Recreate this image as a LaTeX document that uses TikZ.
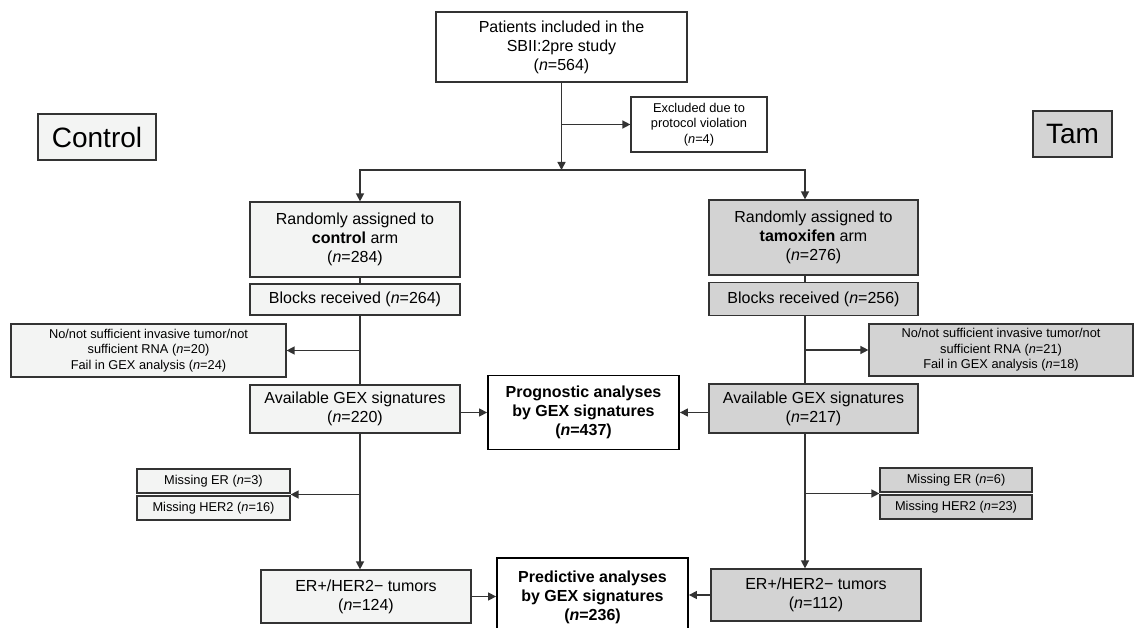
\documentclass[tikz,border=0pt]{standalone}
\usepackage{fontspec}
\setmainfont{Liberation Sans}
\usetikzlibrary{arrows.meta,calc}
\definecolor{ctrlgray}{HTML}{F3F4F3}
\definecolor{tamgray}{HTML}{D3D3D3}
\definecolor{edgegray}{HTML}{333333}
\tikzset{
  box/.style={draw=edgegray, line width=1.2pt, align=center, inner sep=0pt},
  bigtxt/.style={font=\fontsize{16}{19}\selectfont},
  smalltxt/.style={font=\fontsize{12.8}{15.3}\selectfont},
  tinytxt/.style={font=\fontsize{12.8}{15.5}\selectfont},
  ctrl/.style={box, fill=ctrlgray},
  tam/.style={box, fill=tamgray},
  result/.style={box, draw=black, line width=1.8pt, fill=white, font=\bfseries\fontsize{16}{19}\selectfont},
  flow/.style={draw=edgegray, line width=1.4pt},
  arr/.style={flow, -{Triangle[length=8pt,width=8pt]}},
}

\begin{document}
\begin{tikzpicture}[x=1pt, y=-1pt]
    \useasboundingbox (0,0) rectangle (1134,628);
    \coordinate (lspine) at (360,0);
    \coordinate (rspine) at (805,0);
    \coordinate (split) at (561.5,170);
    % top
    \node[box, bigtxt, fill=white, minimum width=251pt, minimum height=70pt] (study) at (561.5,47)
        {Patients included in the\\SBII:2pre study\\(\textit{n}=564)};
    \node[box, smalltxt, fill=white, minimum width=136pt, minimum height=55pt] (excl) at (699,124.5)
        {Excluded due to\\protocol violation\\(\textit{n}=4)};
    \node[ctrl, font=\fontsize{28}{32}\selectfont, minimum width=118pt, minimum height=46pt] (ctrllabel) at (97,137) {Control};
    \node[tam, font=\fontsize{28}{32}\selectfont, minimum width=79pt, minimum height=46pt] (tamlabel) at (1072.5,134) {Tam};
    % control arm
    \node[ctrl, bigtxt, minimum width=210pt, minimum height=75pt] (randc) at (355,239.5)
        {Randomly assigned to\\\textbf{control} arm\\(\textit{n}=284)};
    \node[ctrl, bigtxt, minimum width=210pt, minimum height=31pt] (blockc) at (355,299.5)
        {Blocks received (\textit{n}=264)};
    \node[ctrl, tinytxt, minimum width=275pt, minimum height=53pt] (failc) at (148.5,350.5)
        {No/not sufficient invasive tumor/not\\sufficient RNA (\textit{n}=20)\\Fail in GEX analysis (\textit{n}=24)};
    \node[ctrl, bigtxt, minimum width=210pt, minimum height=48pt] (gexc) at (355,409)
        {Available GEX signatures\\(\textit{n}=220)};
    \node[ctrl, smalltxt, minimum width=153pt, minimum height=24pt] (missc) at (213.5,481) {Missing ER (\textit{n}=3)};
    \node[ctrl, smalltxt, minimum width=153pt, minimum height=24pt] (misshc) at (213.5,508) {Missing HER2 (\textit{n}=16)};
    \node[ctrl, bigtxt, minimum width=210pt, minimum height=53pt] (erc) at (366,596.5)
        {ER+/HER2− tumors\\(\textit{n}=124)};
    % tamoxifen arm
    \node[tam, bigtxt, minimum width=209pt, minimum height=75pt] (randt) at (813.5,237.5)
        {Randomly assigned to\\\textbf{tamoxifen} arm\\(\textit{n}=276)};
    \node[tam, bigtxt, minimum width=209pt, minimum height=33pt] (blockt) at (813.5,299)
        {Blocks received (\textit{n}=256)};
    \node[tam, tinytxt, minimum width=264pt, minimum height=52pt] (failt) at (1001,350)
        {No/not sufficient invasive tumor/not\\sufficient RNA (\textit{n}=21)\\Fail in GEX analysis (\textit{n}=18)};
    \node[tam, bigtxt, minimum width=209pt, minimum height=49pt] (gext) at (813.5,408.5)
        {Available GEX signatures\\(\textit{n}=217)};
    \node[tam, smalltxt, minimum width=152pt, minimum height=24pt] (misst) at (956,480) {Missing ER (\textit{n}=6)};
    \node[tam, smalltxt, minimum width=152pt, minimum height=24pt] (missht) at (956,507) {Missing HER2 (\textit{n}=23)};
    \node[tam, bigtxt, minimum width=210pt, minimum height=52pt] (ert) at (816,595)
        {ER+/HER2− tumors\\(\textit{n}=112)};
    % results
    \node[result, minimum width=191pt, minimum height=74pt] (prog) at (583.5,412.5)
        {Prognostic analyses\\by GEX signatures\\(\textit{n}=437)};
    \node[result, minimum width=191pt, minimum height=78pt] (pred) at (592.5,597)
        {Predictive analyses\\by GEX signatures\\(\textit{n}=236)};
    \coordinate (missgapc) at ($(missc.south east)!.5!(misshc.north east)$);
    \coordinate (missgapt) at ($(misst.south west)!.5!(missht.north west)$);
    % connectors
    \draw[arr] (study.south) -- (split);
    \draw[arr] (study.south |- excl.west) -- (excl.west);
    \draw[arr] (split) -| (randc.north -| lspine);
    \draw[arr] (split) -| (randt.north -| rspine);
    \draw[flow] (randc.south -| lspine) -- (blockc.north -| lspine);
    \draw[flow] (blockc.south -| lspine) -- (gexc.north -| lspine);
    \draw[arr] (lspine |- failc.east) -- (failc.east);
    \draw[arr] (gexc.south -| lspine) -- (erc.north -| lspine);
    \draw[arr] (lspine |- missgapc) -- (missgapc);
    \draw[flow] (randt.south -| rspine) -- (blockt.north -| rspine);
    \draw[flow] (blockt.south -| rspine) -- (gext.north -| rspine);
    \draw[arr] (rspine |- failt.west) -- (failt.west);
    \draw[arr] (gext.south -| rspine) -- (ert.north -| rspine);
    \draw[arr] (rspine |- missgapt) -- (missgapt);
    \draw[arr] (prog.west -| gexc.east) -- (prog.west);
    \draw[arr] (prog.east -| gext.west) -- (prog.east);
    \draw[arr] (erc.east) -- (erc.east -| pred.west);
    \draw[arr] (ert.west) -- (ert.west -| pred.east);
\end{tikzpicture}
\end{document}
